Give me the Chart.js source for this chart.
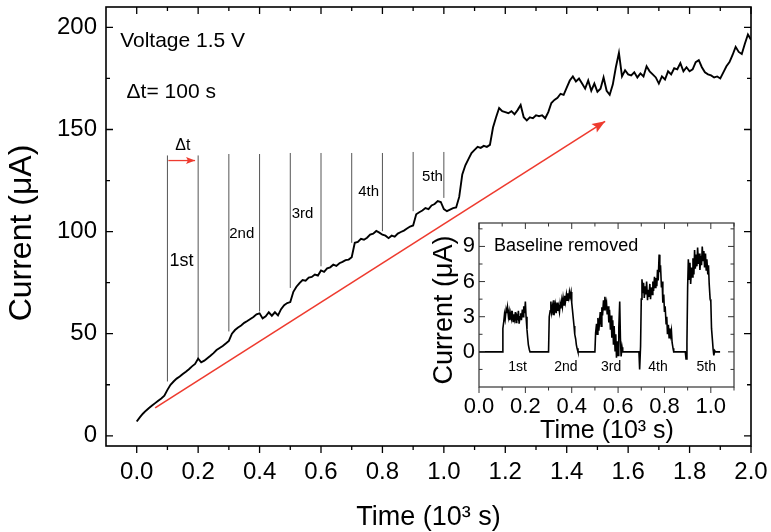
<!DOCTYPE html>
<html>
<head>
<meta charset="utf-8">
<script src="https://cdn.jsdelivr.net/npm/chart.js@4.4.1/dist/chart.umd.min.js"></script>
<style>
  html, body { margin: 0; padding: 0; background: #fff; }
  #wrap { position: relative; width: 771px; height: 532px; overflow: hidden; }
  #main { position: absolute; left: 0; top: 0; }
  #inset { position: absolute; left: 425px; top: 215px; }
</style>
</head>
<body>
<div id="wrap">
  <canvas id="main" width="771" height="532"></canvas>
  <canvas id="inset" width="320" height="235"></canvas>
</div>
<script>
// ---- Main trace: current (µA) sampled every 10 s (0.01 × 10^3 s) ----
const mainCurrent = [
  7.0, 9.0, 10.8, 12.3, 13.6, 14.8, 16.0, 17.2, 18.3, 19.6,
  22.5, 25.0, 26.6, 28.0, 29.0, 30.3, 31.4, 32.6, 34.0, 35.2,
  37.8, 36.0, 36.8, 38.0, 39.2, 40.5, 42.0, 43.0, 44.0, 45.2,
  46.5, 50.0, 51.8, 53.0, 54.0, 55.3, 56.2, 57.2, 58.2, 59.5,
  60.0, 57.5, 58.5, 60.5, 58.8, 60.5, 59.0, 62.0, 64.0, 65.0,
  65.5, 70.5, 73.0, 74.8, 76.3, 76.0, 77.5, 77.8, 79.0, 78.5,
  81.0, 80.3, 82.0, 82.5, 83.8, 83.2, 84.5, 85.2, 86.0, 86.3,
  87.5, 94.5, 95.0, 96.5, 96.0, 97.0, 98.5, 99.0, 100.3, 99.5,
  98.5, 98.0, 96.8, 98.0, 97.5, 99.0, 99.8, 100.5, 101.5, 102.5,
  103.0, 108.5, 109.5, 110.3, 111.5, 111.0, 112.8, 113.5, 115.0, 114.5,
  111.0, 110.0, 110.8, 111.5, 111.8, 117.0, 128.0, 132.5, 135.5, 138.5,
  140.0, 141.5, 141.0, 142.0, 141.5, 142.5, 151.0, 156.0, 160.5, 159.0,
  158.5, 158.0, 159.0, 157.5, 159.5, 162.0, 156.0, 154.5, 156.0, 155.5,
  157.0, 156.5, 157.0, 155.5, 158.5, 163.0, 164.5, 165.5, 167.5, 167.0,
  170.5, 174.0, 176.0, 173.5, 175.0, 172.5, 170.0, 174.0, 169.0, 172.5,
  168.5, 170.0, 175.5, 169.0, 167.0, 172.0, 180.5, 187.5, 176.0, 179.0,
  177.0, 176.5, 178.0, 175.5, 177.5, 176.0, 181.0, 178.5, 177.0, 175.5,
  172.5, 176.0, 174.5, 178.5, 177.0, 180.0, 179.5, 182.5, 178.5, 180.5,
  178.5, 179.5, 183.0, 184.0, 180.5, 178.0, 177.0, 176.5, 175.5, 176.0,
  175.0, 178.0, 181.0, 183.0, 186.5, 190.5, 188.0, 187.0, 192.0, 196.5,
  194.0
];
const mainTime = mainCurrent.map((_, i) => i / 100);

// Axis ticks (10^3 s and µA)
const mainXTicks = [0, 0.2, 0.4, 0.6, 0.8, 1.0, 1.2, 1.4, 1.6, 1.8, 2.0];
const mainXMinor = [0.1, 0.3, 0.5, 0.7, 0.9, 1.1, 1.3, 1.5, 1.7, 1.9];
const mainYTicks = [0, 50, 100, 150, 200];
const mainYMinor = [25, 75, 125, 175];

// Exposure markers every Δt = 100 s
const markerTime = [0.1, 0.2, 0.3, 0.4, 0.5, 0.6, 0.7, 0.8, 0.9, 1.0];
const markerLow  = [26.6, 37.3, 51.1, 60.9, 72.4, 83.0, 94.5, 100.2, 110.0, 116.5];
const markerHigh = [137.3, 137.3, 138.0, 138.0, 138.5, 138.5, 138.5, 138.5, 139.0, 139.0];

const cycleNames   = ['1st', '2nd', '3rd', '4th', '5th'];
const cycleLabelX  = [0.146, 0.342, 0.54, 0.755, 0.963];
const cycleLabelY  = [83.0, 96.9, 106.7, 117.4, 124.7];

// Trend arrow and Δt arrow (time, current)
const trendTime = [0.06, 1.525];
const trendCurrent = [13.7, 154.0];
const dtTime = [0.103, 0.19];
const dtCurrent = [134.8, 134.8];

// ---- Inset: baseline-removed current ----
const insetTime = [
  0, 0.05, 0.100,
  0.103,0.107,0.110,0.113,0.117,0.120,0.123,0.127,0.130,0.133,
  0.137,0.140,0.143,0.147,0.150,0.153,0.157,0.160,0.163,0.167,
  0.170,0.173,0.177,0.180,0.183,0.187,0.190,0.193,0.197,0.200,
  0.203,0.207,0.210,0.213,0.217,0.220,
  0.25, 0.300,
  0.303,0.307,0.310,0.313,0.317,0.320,0.323,0.327,0.330,0.333,
  0.337,0.340,0.343,0.347,0.350,0.353,0.357,0.360,0.363,0.367,
  0.370,0.373,0.377,0.380,0.383,0.387,0.390,0.393,0.397,0.400,
  0.403,0.407,0.410,0.413,0.417,0.420,0.423,0.427,
  0.46, 0.500,
  0.503,0.507,0.510,0.513,0.517,0.520,0.523,0.527,0.530,0.533,
  0.537,0.540,0.543,0.547,0.550,0.553,0.557,0.560,0.563,0.567,
  0.570,0.573,0.577,0.580,0.583,0.587,0.590,0.593,0.597,0.600,
  0.603,0.607,0.610,0.613,0.617,0.620,
  0.65, 0.690,
  0.693,0.697,0.700,0.703,0.707,0.710,0.713,0.717,0.720,0.723,
  0.727,0.730,0.733,0.737,0.740,0.743,0.747,0.750,0.753,0.757,
  0.760,0.763,0.767,0.770,0.773,0.777,0.780,0.783,0.787,0.790,
  0.793,0.797,0.800,0.803,0.807,0.810,0.813,0.817,0.820,0.823,
  0.827,0.830,0.833,0.837,0.840,
  0.87, 0.890,
  0.893,0.897,0.900,0.903,0.907,0.910,0.913,0.917,0.920,0.923,
  0.927,0.930,0.933,0.937,0.940,0.943,0.947,0.950,0.953,0.957,
  0.960,0.963,0.967,0.970,0.973,0.977,0.980,0.983,0.987,0.990,
  0.993,0.997,1.000,1.003,1.007,1.010,1.013,1.017,1.020,
  1.040
];
const insetCurrent = [
  0, 0, 0,
  2.0,2.6,3.2,2.8,3.6,3.3,3.8,3.0,3.4,2.7,
  3.3,2.9,3.5,2.6,3.2,2.8,3.4,2.5,3.1,2.9,
  3.5,2.4,3.0,3.3,2.7,3.6,3.0,3.9,3.3,4.3,
  3.0,1.9,1.2,0.6,0.2,0,
  0, 0,
  3.0,3.5,4.3,3.4,3.9,3.2,4.4,3.6,4.0,3.3,
  4.2,3.5,3.9,3.4,4.1,3.7,4.4,3.9,4.6,4.0,
  4.8,4.3,4.9,4.4,5.0,4.6,5.1,4.7,5.1,4.2,
  3.6,2.8,2.2,1.5,1.1,0.6,0.3,0,
  0, 0,
  1.6,2.4,1.5,2.9,1.8,2.6,3.4,2.2,3.8,3.1,
  4.4,3.6,4.7,3.9,4.2,3.2,3.9,2.5,3.6,1.9,
  3.1,1.2,2.7,0.6,2.2,0.1,1.5,-0.5,0.9,-0.3,
  2.0,4.3,1.2,-0.4,0.4,0,
  0, 0,
  -1.5,0.5,4.5,6.2,5.0,5.9,4.6,5.6,4.9,6.0,
  4.4,5.3,4.7,5.8,4.5,5.5,4.9,6.0,5.2,6.4,
  5.5,6.3,5.6,7.0,6.1,8.3,6.8,7.4,5.5,6.0,
  4.2,4.9,3.4,3.9,2.4,3.0,1.5,2.3,1.2,2.0,
  1.4,1.8,0.8,0.3,0,
  0, 0,
  -0.6,0.8,5.5,7.9,6.2,7.6,5.8,7.2,6.4,8.0,
  6.6,8.7,7.1,8.3,7.3,8.9,7.5,8.4,7.0,8.2,
  7.4,9.0,7.8,8.6,7.2,8.4,7.0,7.9,6.6,7.4,
  5.8,4.5,4.3,2.0,1.0,0.2,-0.3,0.1,0,
  0
];
const insetXTicks = [0, 0.2, 0.4, 0.6, 0.8, 1.0];
const insetXMinor = [0.1, 0.3, 0.5, 0.7, 0.9, 1.1];
const insetYTicks = [0, 3, 6, 9];
const insetYMinor = [-1.5, 1.5, 4.5, 7.5, 10.5];
const insetLabelX = [0.166, 0.375, 0.57, 0.772, 0.98];
const insetLabelY = -1.6;

// ---- Drawing helpers ----
const FONT = "'Liberation Sans', Arial, Helvetica, sans-serif";
const RED = '#ee3b2f';

const axisFrame = {
  id: 'axisFrame',
  afterDatasetsDraw(chart, args, o) {
    const { ctx, chartArea: a } = chart;
    const xs = chart.scales.x, ys = chart.scales.y;
    ctx.save();
    ctx.strokeStyle = o.color;
    ctx.lineWidth = o.tickWidth;
    ctx.beginPath();
    const seg = (x1, y1, x2, y2) => { ctx.moveTo(x1, y1); ctx.lineTo(x2, y2); };
    const xt = (vals, len) => vals.forEach(v => {
      const p = xs.getPixelForValue(v);
      seg(p, a.bottom, p, a.bottom + (o.bottomOut ? len : -len));
      seg(p, a.top, p, a.top + len);
    });
    const yt = (vals, len) => vals.forEach(v => {
      const p = ys.getPixelForValue(v);
      seg(a.left, p, a.left + len, p);
      seg(a.right, p, a.right - len, p);
    });
    xt(o.xMajor, o.major); xt(o.xMinor, o.minor);
    yt(o.yMajor, o.major); yt(o.yMinor, o.minor);
    ctx.stroke();
    ctx.lineWidth = o.frameWidth;
    ctx.strokeRect(a.left, a.top, a.right - a.left, a.bottom - a.top);
    ctx.restore();
  }
};

const arrowHeads = {
  id: 'arrowHeads',
  afterDatasetsDraw(chart, args, o) {
    const { ctx } = chart;
    const xs = chart.scales.x, ys = chart.scales.y;
    ctx.save();
    (o.items || []).forEach(it => {
      const x0 = xs.getPixelForValue(it.t[0]), y0 = ys.getPixelForValue(it.c[0]);
      const x1 = xs.getPixelForValue(it.t[1]), y1 = ys.getPixelForValue(it.c[1]);
      const ang = Math.atan2(y1 - y0, x1 - x0);
      ctx.translate(x1, y1);
      ctx.rotate(ang);
      ctx.fillStyle = it.color;
      ctx.beginPath();
      ctx.moveTo(0, 0);
      ctx.lineTo(-it.len, -it.half);
      ctx.lineTo(-it.len * 0.8, 0);
      ctx.lineTo(-it.len, it.half);
      ctx.closePath();
      ctx.fill();
      ctx.setTransform(1, 0, 0, 1, 0, 0);
    });
    ctx.restore();
  }
};

const textLayer = {
  id: 'textLayer',
  afterDraw(chart, args, o) {
    const { ctx } = chart;
    const xs = chart.scales.x, ys = chart.scales.y;
    (o.items || []).forEach(it => {
      const px = it.data ? xs.getPixelForValue(it.x) : it.x;
      const py = it.data ? ys.getPixelForValue(it.y) : it.y;
      ctx.save();
      ctx.translate(px, py);
      if (it.rot) ctx.rotate(it.rot);
      ctx.font = `${it.size}px ${FONT}`;
      ctx.fillStyle = it.color || '#000';
      ctx.textAlign = it.align || 'left';
      ctx.textBaseline = it.baseline || 'alphabetic';
      ctx.fillText(it.text, 0, 0);
      ctx.restore();
    });
  }
};

// ---- Main chart ----
const markerPoints = [];
markerTime.forEach((t, i) => {
  markerPoints.push({ x: t, y: markerLow[i] }, { x: t, y: markerHigh[i] }, { x: t, y: null });
});

const mainTexts = [
  { text: 'Voltage 1.5 V', x: -0.054, y: 190.2, size: 21, data: true },
  { text: 'Δt= 100 s', x: -0.033, y: 165.5, size: 21, data: true },
  { text: 'Δt', x: 0.15, y: 140.2, size: 16, align: 'center', data: true },
  { text: 'Current (μA)', x: 22, y: 233, size: 32, align: 'center', baseline: 'middle', rot: -Math.PI / 2 },
  { text: 'Time (10³ s)', x: 428.5, y: 525, size: 27, align: 'center' }
];
cycleNames.forEach((n, i) => {
  mainTexts.push({ text: n, x: cycleLabelX[i], y: cycleLabelY[i], size: i === 0 ? 18 : 15, align: 'center', data: true });
});

new Chart(document.getElementById('main'), {
  type: 'line',
  data: {
    datasets: [
      { data: mainTime.map((t, i) => ({ x: t, y: mainCurrent[i] })), borderColor: '#000', borderWidth: 1.9, pointRadius: 0, tension: 0 },
      { data: markerPoints, borderColor: '#555', borderWidth: 1, pointRadius: 0, spanGaps: false },
      { data: trendTime.map((t, i) => ({ x: t, y: trendCurrent[i] })), borderColor: RED, borderWidth: 1.6, pointRadius: 0 },
      { data: dtTime.map((t, i) => ({ x: t, y: dtCurrent[i] })), borderColor: RED, borderWidth: 1.3, pointRadius: 0 }
    ]
  },
  options: {
    responsive: false, animation: false, devicePixelRatio: 1,
    layout: { padding: { top: 7, right: 20, left: 0, bottom: 0 } },
    plugins: {
      legend: { display: false }, tooltip: { enabled: false },
      axisFrame: { color: '#000', tickWidth: 1.3, frameWidth: 1.6, major: 7, minor: 4, bottomOut: true,
        xMajor: mainXTicks, xMinor: mainXMinor, yMajor: mainYTicks, yMinor: mainYMinor },
      arrowHeads: { items: [
        { t: trendTime, c: trendCurrent, color: RED, len: 13, half: 5 },
        { t: dtTime, c: dtCurrent, color: RED, len: 9, half: 3.5 }
      ] },
      textLayer: { items: mainTexts }
    },
    scales: {
      x: {
        type: 'linear', min: -0.1, max: 2.0,
        grid: { display: false, drawTicks: false }, border: { display: false },
        afterBuildTicks: s => { s.ticks = mainXTicks.map(v => ({ value: v })); },
        afterFit: s => { s.height = 86; s.paddingLeft = 0; s.paddingRight = 0; },
        ticks: { callback: v => v.toFixed(1), font: { family: FONT, size: 24 }, color: '#000', padding: 12, maxRotation: 0, autoSkip: false }
      },
      y: {
        type: 'linear', min: -5, max: 210,
        grid: { display: false, drawTicks: false }, border: { display: false },
        afterBuildTicks: s => { s.ticks = mainYTicks.map(v => ({ value: v })); },
        afterFit: s => { s.width = 106; s.paddingTop = 0; s.paddingBottom = 0; },
        ticks: { callback: v => String(v), font: { family: FONT, size: 24 }, color: '#000', padding: 9, autoSkip: false }
      }
    }
  },
  plugins: [axisFrame, arrowHeads, textLayer]
});

// ---- Inset chart ----
const insetTexts = [
  { text: 'Baseline removed', x: 0.065, y: 8.6, size: 18, data: true },
  { text: 'Current (μA)', x: 20, y: 95, size: 27, align: 'center', baseline: 'middle', rot: -Math.PI / 2 },
  { text: 'Time (10³ s)', x: 182, y: 223, size: 25, align: 'center' }
];
cycleNames.forEach((n, i) => {
  insetTexts.push({ text: n, x: insetLabelX[i], y: insetLabelY, size: 14, align: 'center', data: true });
});

new Chart(document.getElementById('inset'), {
  type: 'line',
  data: {
    datasets: [
      { data: insetTime.map((t, i) => ({ x: t, y: insetCurrent[i] })), borderColor: '#000', borderWidth: 1.6, pointRadius: 0, tension: 0 }
    ]
  },
  options: {
    responsive: false, animation: false, devicePixelRatio: 1,
    layout: { padding: { top: 8, right: 11, left: 0, bottom: 0 } },
    plugins: {
      legend: { display: false }, tooltip: { enabled: false },
      axisFrame: { color: '#333', tickWidth: 1, frameWidth: 1.2, major: 6, minor: 3.5, bottomOut: true,
        xMajor: insetXTicks, xMinor: insetXMinor, yMajor: insetYTicks, yMinor: insetYMinor },
      textLayer: { items: insetTexts }
    },
    scales: {
      x: {
        type: 'linear', min: 0, max: 1.1,
        grid: { display: false, drawTicks: false }, border: { display: false },
        afterBuildTicks: s => { s.ticks = insetXTicks.map(v => ({ value: v })); },
        afterFit: s => { s.height = 63; s.paddingLeft = 0; s.paddingRight = 0; },
        ticks: { callback: v => v.toFixed(1), font: { family: FONT, size: 22 }, color: '#000', padding: 7, maxRotation: 0, autoSkip: false }
      },
      y: {
        type: 'linear', min: -3, max: 11,
        grid: { display: false, drawTicks: false }, border: { display: false },
        afterBuildTicks: s => { s.ticks = insetYTicks.map(v => ({ value: v })); },
        afterFit: s => { s.width = 54; s.paddingTop = 0; s.paddingBottom = 0; },
        ticks: { callback: v => String(v), font: { family: FONT, size: 22 }, color: '#000', padding: 4, autoSkip: false }
      }
    }
  },
  plugins: [axisFrame, textLayer]
});
</script>
</body>
</html>
